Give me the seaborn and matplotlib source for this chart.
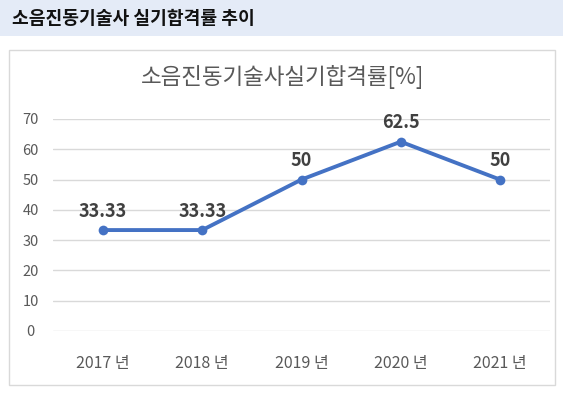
import matplotlib
matplotlib.use("Agg")
import matplotlib.pyplot as plt
import seaborn as sns
import pandas as pd
from matplotlib.patches import Rectangle

years = ["2017 년", "2018 년", "2019 년", "2020 년", "2021 년"]
rates = [33.33, 33.33, 50, 62.5, 50]
rate_labels = ["33.33", "33.33", "50", "62.5", "50"]
yticks = [0, 10, 20, 30, 40, 50, 60, 70]

sns.set_theme(style="white")
plt.rcParams['font.family'] = ['Noto Sans CJK KR', 'DejaVu Sans']

W, H = 563, 397
fig = plt.figure(figsize=(W / 100, H / 100), dpi=100)
fig.patch.set_facecolor("white")

# header band
fig.patches.append(Rectangle((0, 1 - 36 / H), 1, 36 / H, transform=fig.transFigure,
                             facecolor="#E4EBF7", edgecolor="none", zorder=-10))
fig.text(12 / W, 1 - 18 / H, "소음진동기술사 실기합격률 추이", fontsize=13.1, fontweight="bold",
         color="#111111", ha="left", va="center")

# chart border box
fig.patches.append(Rectangle((9 / W, 1 - 385 / H), (555 - 9) / W, (385 - 50) / H,
                             transform=fig.transFigure, facecolor="white",
                             edgecolor="#D9D9D9", linewidth=1, zorder=-10))

fig.text(283 / W, 1 - 77 / H, "소음진동기술사실기합격률[%]", fontsize=16.2, color="#595959",
         ha="center", va="center")

left, right = 53.4, 549.6
bottom, top = 331, 119
ax = fig.add_axes([left / W, 1 - bottom / H, (right - left) / W, (bottom - top) / H])
ax.set_facecolor("none")
ax.set_zorder(5)

df = pd.DataFrame({"year": years, "rate": rates})
sns.lineplot(data=df, x="year", y="rate", ax=ax, color="#4472C4", linewidth=2.8,
             marker="o", markersize=7, markeredgewidth=0, sort=False)

ax.set_xlim(-0.5, len(years) - 0.5)
ax.set_ylim(0, 70)
ax.set_yticks(yticks)
ax.yaxis.grid(True, color="#D9D9D9", linewidth=1)
ax.set_axisbelow(True)
for s in ax.spines.values():
    s.set_visible(False)
ax.set_xlabel("")
ax.set_ylabel("")
ax.tick_params(axis="y", length=0, pad=16.5, labelsize=10.5, labelcolor="#595959")
ax.tick_params(axis="x", length=0, pad=17, labelsize=11.5, labelcolor="#595959")
for lbl in ax.get_yticklabels():
    lbl.set_horizontalalignment("center")

for i, (v, t) in enumerate(zip(rates, rate_labels)):
    ax.annotate(t, (i, v), xytext=(0, 13.7), textcoords="offset points", ha="center",
                va="center", fontsize=13, fontweight="bold", color="#404040")

fig.savefig("out.png", dpi=100)
